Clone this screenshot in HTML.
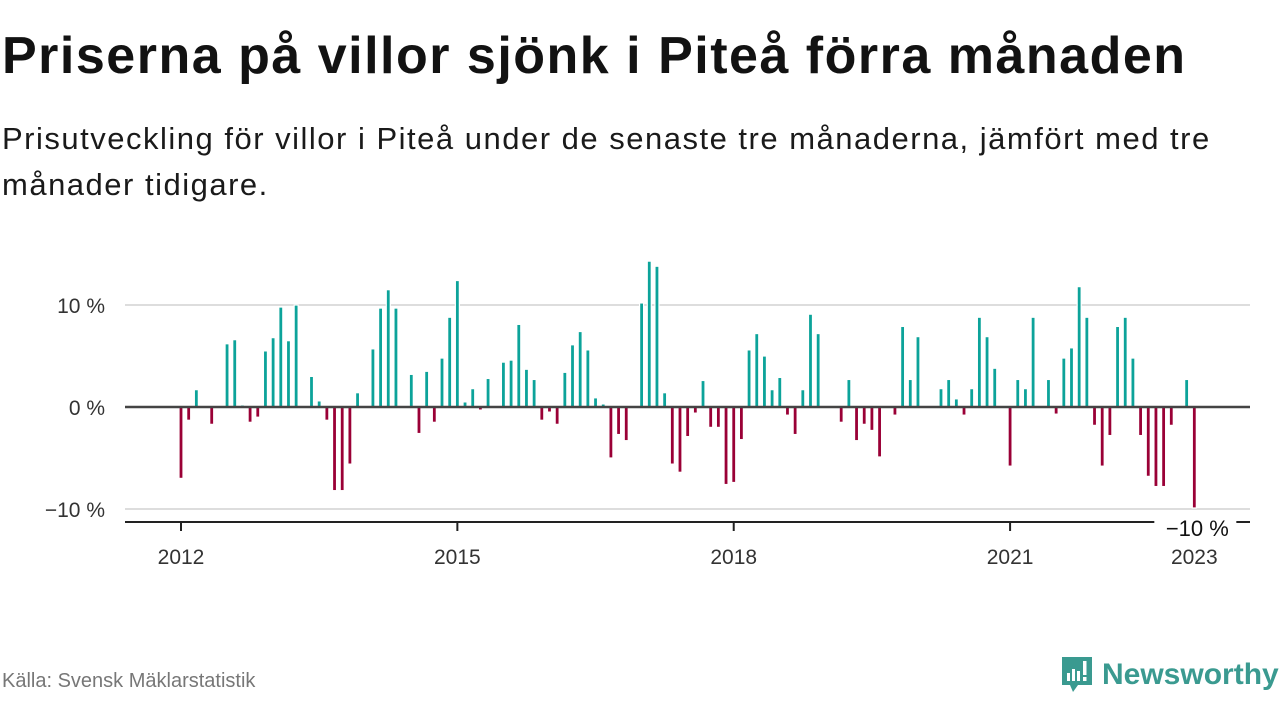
<!DOCTYPE html>
<html><head><meta charset="utf-8">
<style>
body{margin:0;width:1280px;height:720px;background:#fff;font-family:"Liberation Sans","DejaVu Sans",sans-serif;color:#111;overflow:hidden;position:relative}
h1{position:absolute;left:2px;top:26px;margin:0;font-size:52px;font-weight:bold;letter-spacing:1.5px;color:#121212;white-space:nowrap}
.sub{position:absolute;left:2px;top:116px;font-size:31px;line-height:46px;letter-spacing:1.5px;color:#1a1a1a;width:1240px}
.src{position:absolute;left:2px;top:670px;font-size:20px;color:#777}
.logo{position:absolute;left:1060px;top:655px;display:flex;align-items:center}
.logo span{font-size:30px;font-weight:bold;color:#3a9a90;margin-left:8px}
</style></head><body>
<h1>Priserna på villor sjönk i Piteå förra månaden</h1>
<div class="sub">Prisutveckling för villor i Piteå under de senaste tre månaderna, jämfört med tre månader tidigare.</div>
<svg id="chart" width="1280" height="720" style="position:absolute;left:0;top:0"></svg>
<div class="src">Källa: Svensk Mäklarstatistik</div>
<div class="logo">
<svg width="34" height="40" viewBox="0 0 34 40"><path d="M2 2h30v28H18l-5 7-3-7H2z" fill="#3a9a90"/><rect x="7" y="18" width="3" height="8" fill="#fff"/><rect x="12" y="14" width="3" height="12" fill="#fff"/><rect x="17" y="16" width="3" height="10" fill="#fff"/><rect x="23" y="6" width="3.5" height="14" fill="#fff"/><rect x="23" y="22" width="3.5" height="4" fill="#fff"/></svg>
<span>Newsworthy</span></div>
<script>
const values=[-7,-1.3,1.7,0,-1.7,0,6.2,6.6,0.2,-1.5,-1,5.5,
6.8,9.8,6.5,10,0,3,0.6,-1.3,-8.2,-8.2,-5.6,1.4,
0,5.7,9.7,11.5,9.7,0,3.2,-2.6,3.5,-1.5,4.8,8.8,
12.4,0.5,1.8,-0.3,2.8,0,4.4,4.6,8.1,3.7,2.7,-1.3,
-0.5,-1.7,3.4,6.1,7.4,5.6,0.9,0.3,-5,-2.7,-3.3,0.1,
10.2,14.3,13.8,1.4,-5.6,-6.4,-2.9,-0.6,2.6,-2,-2,-7.6,
-7.4,-3.2,5.6,7.2,5,1.7,2.9,-0.8,-2.7,1.7,9.1,7.2,
0,0,-1.5,2.7,-3.3,-1.7,-2.3,-4.9,0,-0.8,7.9,2.7,
6.9,0,0,1.8,2.7,0.8,-0.8,1.8,8.8,6.9,3.8,0,
-5.8,2.7,1.8,8.8,0,2.7,-0.7,4.8,5.8,11.8,8.8,-1.8,
-5.8,-2.8,7.9,8.8,4.8,-2.8,-6.8,-7.8,-7.8,-1.8,0,2.7,
-9.9];
const yTicks=[10,0,-10];
const yTickLabels=["10 %","0 %","−10 %"];
const xYears=[2012,2015,2018,2021,2023];
const startYear=2012;
const NS="http://www.w3.org/2000/svg";
const svg=document.getElementById('chart');
const x=m=>181+m*7.6767;
const y=v=>407-v*10.2;
function el(t,a){const e=document.createElementNS(NS,t);for(const k in a)e.setAttribute(k,a[k]);svg.appendChild(e);return e;}
yTicks.forEach((t,i)=>{
  if(t!==0){const g=el('line',{x1:125,x2:1250,y1:y(t),y2:y(t),stroke:'#ddd','stroke-width':2});
  
  }
  const tx=el('text',{x:105,y:y(t)+8,'text-anchor':'end','font-size':21,fill:'#333'});
  tx.textContent=yTickLabels[i];
  
  
});
values.forEach((v,i)=>{
  if(v===0)return;
  const top=Math.min(y(v),y(0)),h=Math.abs(y(v)-y(0));
  const r=el('rect',{x:x(i)-2,y:top,width:4,height:h,fill:v>0?'#0ca39a':'#9a0036',stroke:'#fff','stroke-width':1.2});
  
  
});
const z=el('line',{x1:125,x2:1250,y1:y(0),y2:y(0),stroke:'#444','stroke-width':2.5});


const ax=el('line',{x1:125,x2:1250,y1:522,y2:522,stroke:'#222','stroke-width':2});


xYears.forEach(yr=>{
  const px=x((yr-startYear)*12);
  const tk=el('line',{x1:px,x2:px,y1:522,y2:531,stroke:'#222','stroke-width':2});
  
  
  const t=el('text',{x:px,y:564,'text-anchor':'middle','font-size':21,fill:'#333'});
  t.textContent=yr;
  
  
});
const last=values.length-1;
const bg=el('rect',{x:x(last)-40,y:514,width:82,height:26,fill:'#fff'});


const lv=el('text',{x:x(last)+3,y:536,'text-anchor':'middle','font-size':22,fill:'#111'});
lv.textContent=(values[last]<0?'−':'')+Math.round(Math.abs(values[last]))+' %';


</script>
</body></html>
